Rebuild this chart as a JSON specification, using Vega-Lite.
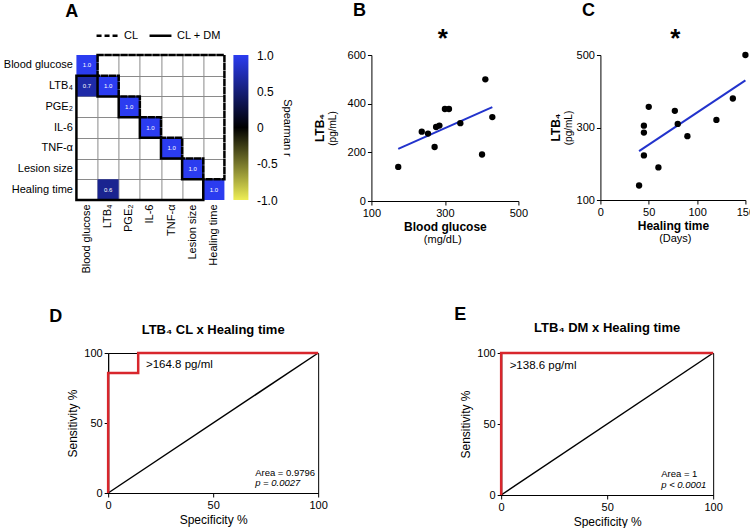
{
  "$schema": "https://vega.github.io/schema/vega-lite/v6.json",
  "background": "white",
  "padding": {"left": 1, "top": 2, "right": 0, "bottom": 0},
  "config": {
    "font": "Liberation Sans",
    "view": {"stroke": null},
    "axis": {"labelColor": "black", "titleColor": "black", "domainColor": "black", "tickColor": "black", "labelFont": "Liberation Sans", "titleFont": "Liberation Sans", "labelFontSize": 11, "titleFontWeight": "normal", "grid": false, "labelFlush": false, "labelOverlap": false},
    "title": {"color": "black", "font": "Liberation Sans"},
    "legend": {"labelColor": "black", "labelFont": "Liberation Sans"}
  },
  "datasets": {
    "heat": [
      {"row": "Blood glucose", "col": "Blood glucose", "r": 1.0},
      {"row": "LTB₄", "col": "Blood glucose", "r": 0.7},
      {"row": "LTB₄", "col": "LTB₄", "r": 1.0},
      {"row": "PGE₂", "col": "PGE₂", "r": 1.0},
      {"row": "IL-6", "col": "IL-6", "r": 1.0},
      {"row": "TNF-α", "col": "TNF-α", "r": 1.0},
      {"row": "Lesion size", "col": "Lesion size", "r": 1.0},
      {"row": "Healing time", "col": "LTB₄", "r": 0.6},
      {"row": "Healing time", "col": "Healing time", "r": 1.0}
    ],
    "outline": [
      {"grp": "CL", "ord": 0, "gx": 1, "gy": 0},
      {"grp": "CL", "ord": 1, "gx": 7, "gy": 0},
      {"grp": "CL", "ord": 2, "gx": 7, "gy": 6},
      {"grp": "CL", "ord": 3, "gx": 6, "gy": 6},
      {"grp": "CL", "ord": 4, "gx": 6, "gy": 5},
      {"grp": "CL", "ord": 5, "gx": 5, "gy": 5},
      {"grp": "CL", "ord": 6, "gx": 5, "gy": 4},
      {"grp": "CL", "ord": 7, "gx": 4, "gy": 4},
      {"grp": "CL", "ord": 8, "gx": 4, "gy": 3},
      {"grp": "CL", "ord": 9, "gx": 3, "gy": 3},
      {"grp": "CL", "ord": 10, "gx": 3, "gy": 2},
      {"grp": "CL", "ord": 11, "gx": 2, "gy": 2},
      {"grp": "CL", "ord": 12, "gx": 2, "gy": 1},
      {"grp": "CL", "ord": 13, "gx": 1, "gy": 1},
      {"grp": "CL", "ord": 14, "gx": 1, "gy": 0},
      {"grp": "CL + DM", "ord": 0, "gx": 0, "gy": 1},
      {"grp": "CL + DM", "ord": 1, "gx": 0, "gy": 7},
      {"grp": "CL + DM", "ord": 2, "gx": 6, "gy": 7},
      {"grp": "CL + DM", "ord": 3, "gx": 6, "gy": 6},
      {"grp": "CL + DM", "ord": 4, "gx": 5, "gy": 6},
      {"grp": "CL + DM", "ord": 5, "gx": 5, "gy": 5},
      {"grp": "CL + DM", "ord": 6, "gx": 4, "gy": 5},
      {"grp": "CL + DM", "ord": 7, "gx": 4, "gy": 4},
      {"grp": "CL + DM", "ord": 8, "gx": 3, "gy": 4},
      {"grp": "CL + DM", "ord": 9, "gx": 3, "gy": 3},
      {"grp": "CL + DM", "ord": 10, "gx": 2, "gy": 3},
      {"grp": "CL + DM", "ord": 11, "gx": 2, "gy": 2},
      {"grp": "CL + DM", "ord": 12, "gx": 1, "gy": 2},
      {"grp": "CL + DM", "ord": 13, "gx": 1, "gy": 1},
      {"grp": "CL + DM", "ord": 14, "gx": 0, "gy": 1}
    ],
    "bpts": [
      {"glucose": 173, "ltb4": 140}, {"glucose": 237, "ltb4": 285}, {"glucose": 254, "ltb4": 277},
      {"glucose": 272, "ltb4": 222}, {"glucose": 276, "ltb4": 304}, {"glucose": 285, "ltb4": 310},
      {"glucose": 300, "ltb4": 378}, {"glucose": 311, "ltb4": 378}, {"glucose": 342, "ltb4": 320},
      {"glucose": 401, "ltb4": 191}, {"glucose": 410, "ltb4": 500}, {"glucose": 429, "ltb4": 345}
    ],
    "bfit": [{"glucose": 173, "ltb4": 214}, {"glucose": 429, "ltb4": 386}],
    "cpts": [
      {"days": 40, "ltb4": 140}, {"days": 45, "ltb4": 223}, {"days": 45, "ltb4": 286},
      {"days": 45, "ltb4": 305}, {"days": 50, "ltb4": 357}, {"days": 60, "ltb4": 190},
      {"days": 77, "ltb4": 346}, {"days": 80, "ltb4": 310}, {"days": 90, "ltb4": 276},
      {"days": 120, "ltb4": 321}, {"days": 137, "ltb4": 380}, {"days": 150, "ltb4": 500}
    ],
    "cfit": [{"days": 40, "ltb4": 235}, {"days": 150, "ltb4": 430}],
    "diag": [{"spec": 0, "sens": 0}, {"spec": 100, "sens": 100}],
    "rocD": [
      {"spec": 0, "sens": 0, "o": 0}, {"spec": 0, "sens": 85.7, "o": 1}, {"spec": 14.3, "sens": 85.7, "o": 2},
      {"spec": 14.3, "sens": 100, "o": 3}, {"spec": 100, "sens": 100, "o": 4}
    ],
    "rocE": [
      {"spec": 0, "sens": 0, "o": 0}, {"spec": 0, "sens": 100, "o": 1}, {"spec": 100, "sens": 100, "o": 2}
    ],
    "txtD": [
      {"spec": 18, "sens": 91.5, "t": ">164.8 pg/ml", "s": "big"},
      {"spec": 70, "sens": 14.5, "t": "Area = 0.9796", "s": "normal"},
      {"spec": 70, "sens": 7, "t": "p = 0.0027", "s": "italic"}
    ],
    "txtE": [
      {"spec": 4, "sens": 91, "t": ">138.6 pg/ml", "s": "big"},
      {"spec": 75.5, "sens": 15, "t": "Area = 1", "s": "normal"},
      {"spec": 75.5, "sens": 7, "t": "p < 0.0001", "s": "italic"}
    ]
  },
  "spacing": 31,
  "center": true,
  "vconcat": [
    {
      "spacing": 21,
      "hconcat": [
        {
          "title": {"text": "A", "anchor": "start", "frame": "bounds", "dx": 62, "fontSize": 18, "fontWeight": "bold", "offset": 28},
          "bounds": "flush",
          "spacing": 9,
          "hconcat": [
            {
              "width": 148,
              "height": 145,
              "layer": [
                {
                  "data": {"name": "heat"},
                  "layer": [
                    {
                      "mark": {"type": "rect"},
                      "encoding": {
                        "x": {"field": "col", "type": "nominal", "scale": {"domain": ["Blood glucose", "LTB₄", "PGE₂", "IL-6", "TNF-α", "Lesion size", "Healing time"], "paddingInner": 0, "paddingOuter": 0},
                          "axis": {"orient": "bottom", "labelAngle": 270, "ticks": false, "domain": false, "labelPadding": 4, "title": null, "labelFontSize": 11}},
                        "y": {"field": "row", "type": "nominal", "scale": {"domain": ["Blood glucose", "LTB₄", "PGE₂", "IL-6", "TNF-α", "Lesion size", "Healing time"], "paddingInner": 0, "paddingOuter": 0},
                          "axis": {"orient": "left", "ticks": false, "domain": false, "labelPadding": 4, "title": null, "labelFontSize": 11}},
                        "color": {"field": "r", "type": "quantitative", "scale": {"domain": [-1, 0, 1], "range": ["#eeee55", "#000000", "#2b3cf0"], "interpolate": "rgb"}, "legend": null}
                      }
                    },
                    {
                      "mark": {"type": "text", "color": "white", "fontSize": 6},
                      "encoding": {
                        "x": {"field": "col", "type": "nominal"},
                        "y": {"field": "row", "type": "nominal"},
                        "text": {"field": "r", "type": "quantitative", "format": ".1f"}
                      }
                    }
                  ]
                },
                {
                  "data": {"name": "outline"},
                  "mark": {"type": "line", "color": "black", "strokeWidth": 2.5, "strokeCap": "square"},
                  "encoding": {
                    "x": {"field": "gx", "type": "quantitative", "scale": {"domain": [0, 7], "nice": false, "zero": false},
                      "axis": {"orient": "top", "values": [1, 2, 3, 4, 5, 6], "grid": true, "gridColor": "#8a8a8a", "gridOpacity": 1, "labels": false, "ticks": false, "domain": false, "title": null}},
                    "y": {"field": "gy", "type": "quantitative", "scale": {"domain": [0, 7], "nice": false, "zero": false, "reverse": true},
                      "axis": {"orient": "right", "values": [1, 2, 3, 4, 5, 6], "grid": true, "gridColor": "#8a8a8a", "gridOpacity": 1, "labels": false, "ticks": false, "domain": false, "title": null}},
                    "order": {"field": "ord", "type": "quantitative"},
                    "strokeDash": {"field": "grp", "type": "nominal", "scale": {"domain": ["CL", "CL + DM"], "range": [[5, 3], [1, 0]]},
                      "legend": {"orient": "none", "legendX": 19, "legendY": -32, "direction": "horizontal", "title": null, "symbolType": "stroke", "symbolSize": 480, "symbolStrokeWidth": 2.5, "symbolStrokeColor": "black", "labelFontSize": 11, "columnPadding": 5, "labelOffset": 4}}
                  }
                }
              ],
              "resolve": {"scale": {"x": "independent", "y": "independent"}, "axis": {"x": "independent", "y": "independent"}}
            },
            {
              "width": 15,
              "height": 145,
              "data": {"values": [{"lo": -1, "hi": 1}]},
              "mark": {"type": "rect", "color": {"gradient": "linear", "x1": 0, "y1": 0, "x2": 0, "y2": 1, "stops": [{"offset": 0, "color": "#2b3cf0"}, {"offset": 0.5, "color": "#000000"}, {"offset": 1, "color": "#eeee55"}]}},
              "encoding": {
                "y": {"field": "lo", "type": "quantitative", "scale": {"domain": [-1, 1], "nice": false},
                  "axis": {"orient": "right", "values": [-1, -0.5, 0, 0.5, 1], "labelExpr": "datum.value == 0 ? '0' : (datum.value < 0 ? '-' + format(-datum.value, '.1f') : format(datum.value, '.1f'))", "ticks": false, "domain": false, "labelFontSize": 12, "labelPadding": 8, "title": "Spearman r", "titleAngle": 90, "titleFontSize": 11, "titlePadding": 4}},
                "y2": {"field": "hi"}
              }
            }
          ]
        },
        {
          "title": {"text": "B", "anchor": "start", "frame": "bounds", "dx": 39, "fontSize": 18, "fontWeight": "bold", "offset": 6},
          "vconcat": [
            {
              "title": {"text": "*", "anchor": "middle", "frame": "bounds", "dx": 22, "fontSize": 26, "fontWeight": "bold", "offset": -3},
              "vconcat": [
                {
                  "title": {"text": "(mg/dL)", "orient": "bottom", "anchor": "middle", "frame": "bounds", "dx": 22, "fontSize": 11, "fontWeight": "normal", "offset": 2},
                  "vconcat": [
                    {
                      "title": {"text": "LTB₄", "orient": "left", "anchor": "middle", "frame": "group", "fontSize": 12, "fontWeight": "bold", "offset": 0},
                      "width": 147,
                      "height": 146,
                      "layer": [
                        {
                          "data": {"name": "bfit"},
                          "mark": {"type": "line", "color": "#2233cc", "strokeWidth": 2},
                          "encoding": {
                            "x": {"field": "glucose", "type": "quantitative", "scale": {"domain": [100, 500], "nice": false, "zero": false},
                              "axis": {"values": [100, 200, 300, 400, 500], "tickSize": 4, "title": "Blood glucose", "titleFontWeight": "bold", "titleFontSize": 12, "titlePadding": 3}},
                            "y": {"field": "ltb4", "type": "quantitative", "scale": {"domain": [0, 600], "nice": false},
                              "axis": {"values": [0, 200, 400, 600], "tickSize": 4, "title": "(pg/mL)", "titleFontSize": 10, "titlePadding": 10}}
                          }
                        },
                        {
                          "data": {"name": "bpts"},
                          "mark": {"type": "circle", "color": "black", "opacity": 1, "size": 40},
                          "encoding": {
                            "x": {"field": "glucose", "type": "quantitative"},
                            "y": {"field": "ltb4", "type": "quantitative"}
                          }
                        }
                      ]
                    }
                  ]
                }
              ]
            }
          ]
        },
        {
          "title": {"text": "C", "anchor": "start", "frame": "bounds", "dx": 32, "fontSize": 18, "fontWeight": "bold", "offset": 6},
          "vconcat": [
            {
              "title": {"text": "*", "anchor": "middle", "frame": "bounds", "dx": 23, "fontSize": 26, "fontWeight": "bold", "offset": -3},
              "vconcat": [
                {
                  "title": {"text": "(Days)", "orient": "bottom", "anchor": "middle", "frame": "bounds", "dx": 23, "fontSize": 11, "fontWeight": "normal", "offset": 2},
                  "vconcat": [
                    {
                      "title": {"text": "LTB₄", "orient": "left", "anchor": "middle", "frame": "group", "fontSize": 12, "fontWeight": "bold", "offset": 0},
                      "width": 145,
                      "height": 145,
                      "layer": [
                        {
                          "data": {"name": "cfit"},
                          "mark": {"type": "line", "color": "#2233cc", "strokeWidth": 2},
                          "encoding": {
                            "x": {"field": "days", "type": "quantitative", "scale": {"domain": [0, 150], "nice": false, "zero": false},
                              "axis": {"values": [0, 50, 100, 150], "tickSize": 4, "title": "Healing time", "titleFontWeight": "bold", "titleFontSize": 12, "titlePadding": 3}},
                            "y": {"field": "ltb4", "type": "quantitative", "scale": {"domain": [100, 500], "nice": false, "zero": false},
                              "axis": {"values": [100, 200, 300, 400, 500], "tickSize": 4, "title": "(pg/mL)", "titleFontSize": 10, "titlePadding": 3}}
                          }
                        },
                        {
                          "data": {"name": "cpts"},
                          "mark": {"type": "circle", "color": "black", "opacity": 1, "size": 40},
                          "encoding": {
                            "x": {"field": "days", "type": "quantitative"},
                            "y": {"field": "ltb4", "type": "quantitative"}
                          }
                        }
                      ]
                    }
                  ]
                }
              ]
            }
          ]
        }
      ]
    },
    {
      "spacing": 126,
      "hconcat": [
        {
          "title": {"text": " ", "orient": "left", "fontSize": 10, "offset": 38},
          "vconcat": [
            {
              "title": {"text": "D", "anchor": "start", "frame": "bounds", "dx": -17, "fontSize": 18, "fontWeight": "bold", "offset": -2},
              "vconcat": [
                {
                  "title": {"text": "LTB₄ CL x Healing time", "anchor": "middle", "frame": "group", "fontSize": 13, "fontWeight": "bold", "offset": 10},
                  "width": 210,
                  "height": 140,
                  "view": {"stroke": "black", "strokeWidth": 1},
                  "layer": [
                    {
                      "data": {"name": "diag"},
                      "mark": {"type": "line", "color": "black", "strokeWidth": 1.5},
                      "encoding": {
                        "x": {"field": "spec", "type": "quantitative", "scale": {"domain": [0, 100], "nice": false},
                          "axis": {"values": [0, 50, 100], "tickSize": 4, "title": "Specificity %", "titleFontSize": 12, "titlePadding": 4}},
                        "y": {"field": "sens", "type": "quantitative", "scale": {"domain": [0, 100], "nice": false},
                          "axis": {"values": [0, 50, 100], "tickSize": 4, "title": "Sensitivity %", "titleFontSize": 12, "titlePadding": 4}}
                      }
                    },
                    {
                      "data": {"name": "rocD"},
                      "mark": {"type": "line", "color": "#d8262c", "strokeWidth": 2.5},
                      "encoding": {
                        "x": {"field": "spec", "type": "quantitative"},
                        "y": {"field": "sens", "type": "quantitative"},
                        "order": {"field": "o", "type": "quantitative"}
                      }
                    },
                    {
                      "data": {"name": "txtD"},
                      "transform": [{"filter": "datum.s == 'big'"}],
                      "mark": {"type": "text", "align": "left", "baseline": "middle", "fontSize": 11.5, "color": "black"},
                      "encoding": {"x": {"field": "spec", "type": "quantitative"}, "y": {"field": "sens", "type": "quantitative"}, "text": {"field": "t"}}
                    },
                    {
                      "data": {"name": "txtD"},
                      "transform": [{"filter": "datum.s == 'normal'"}],
                      "mark": {"type": "text", "align": "left", "baseline": "middle", "fontSize": 9.5, "color": "black"},
                      "encoding": {"x": {"field": "spec", "type": "quantitative"}, "y": {"field": "sens", "type": "quantitative"}, "text": {"field": "t"}}
                    },
                    {
                      "data": {"name": "txtD"},
                      "transform": [{"filter": "datum.s == 'italic'"}],
                      "mark": {"type": "text", "align": "left", "baseline": "middle", "fontSize": 9.5, "fontStyle": "italic", "color": "black"},
                      "encoding": {"x": {"field": "spec", "type": "quantitative"}, "y": {"field": "sens", "type": "quantitative"}, "text": {"field": "t"}}
                    }
                  ]
                }
              ]
            }
          ]
        },
        {
          "title": {"text": "E", "anchor": "start", "frame": "bounds", "dx": -5, "fontSize": 18, "fontWeight": "bold", "offset": -2},
          "vconcat": [
            {
              "title": {"text": "LTB₄ DM x Healing time", "anchor": "middle", "frame": "group", "fontSize": 13, "fontWeight": "bold", "offset": 12},
              "width": 212,
              "height": 142,
              "view": {"stroke": "black", "strokeWidth": 1},
              "layer": [
                {
                  "data": {"name": "diag"},
                  "mark": {"type": "line", "color": "black", "strokeWidth": 1.5},
                  "encoding": {
                    "x": {"field": "spec", "type": "quantitative", "scale": {"domain": [0, 100], "nice": false},
                      "axis": {"values": [0, 50, 100], "tickSize": 4, "title": "Specificity %", "titleFontSize": 12, "titlePadding": 4}},
                    "y": {"field": "sens", "type": "quantitative", "scale": {"domain": [0, 100], "nice": false},
                      "axis": {"values": [0, 50, 100], "tickSize": 4, "title": "Sensitivity %", "titleFontSize": 12, "titlePadding": 4}}
                  }
                },
                {
                  "data": {"name": "rocE"},
                  "mark": {"type": "line", "color": "#d8262c", "strokeWidth": 2.5},
                  "encoding": {
                    "x": {"field": "spec", "type": "quantitative"},
                    "y": {"field": "sens", "type": "quantitative"},
                    "order": {"field": "o", "type": "quantitative"}
                  }
                },
                {
                  "data": {"name": "txtE"},
                  "transform": [{"filter": "datum.s == 'big'"}],
                  "mark": {"type": "text", "align": "left", "baseline": "middle", "fontSize": 11.5, "color": "black"},
                  "encoding": {"x": {"field": "spec", "type": "quantitative"}, "y": {"field": "sens", "type": "quantitative"}, "text": {"field": "t"}}
                },
                {
                  "data": {"name": "txtE"},
                  "transform": [{"filter": "datum.s == 'normal'"}],
                  "mark": {"type": "text", "align": "left", "baseline": "middle", "fontSize": 9.5, "color": "black"},
                  "encoding": {"x": {"field": "spec", "type": "quantitative"}, "y": {"field": "sens", "type": "quantitative"}, "text": {"field": "t"}}
                },
                {
                  "data": {"name": "txtE"},
                  "transform": [{"filter": "datum.s == 'italic'"}],
                  "mark": {"type": "text", "align": "left", "baseline": "middle", "fontSize": 9.5, "fontStyle": "italic", "color": "black"},
                  "encoding": {"x": {"field": "spec", "type": "quantitative"}, "y": {"field": "sens", "type": "quantitative"}, "text": {"field": "t"}}
                }
              ]
            }
          ]
        }
      ]
    }
  ]
}
